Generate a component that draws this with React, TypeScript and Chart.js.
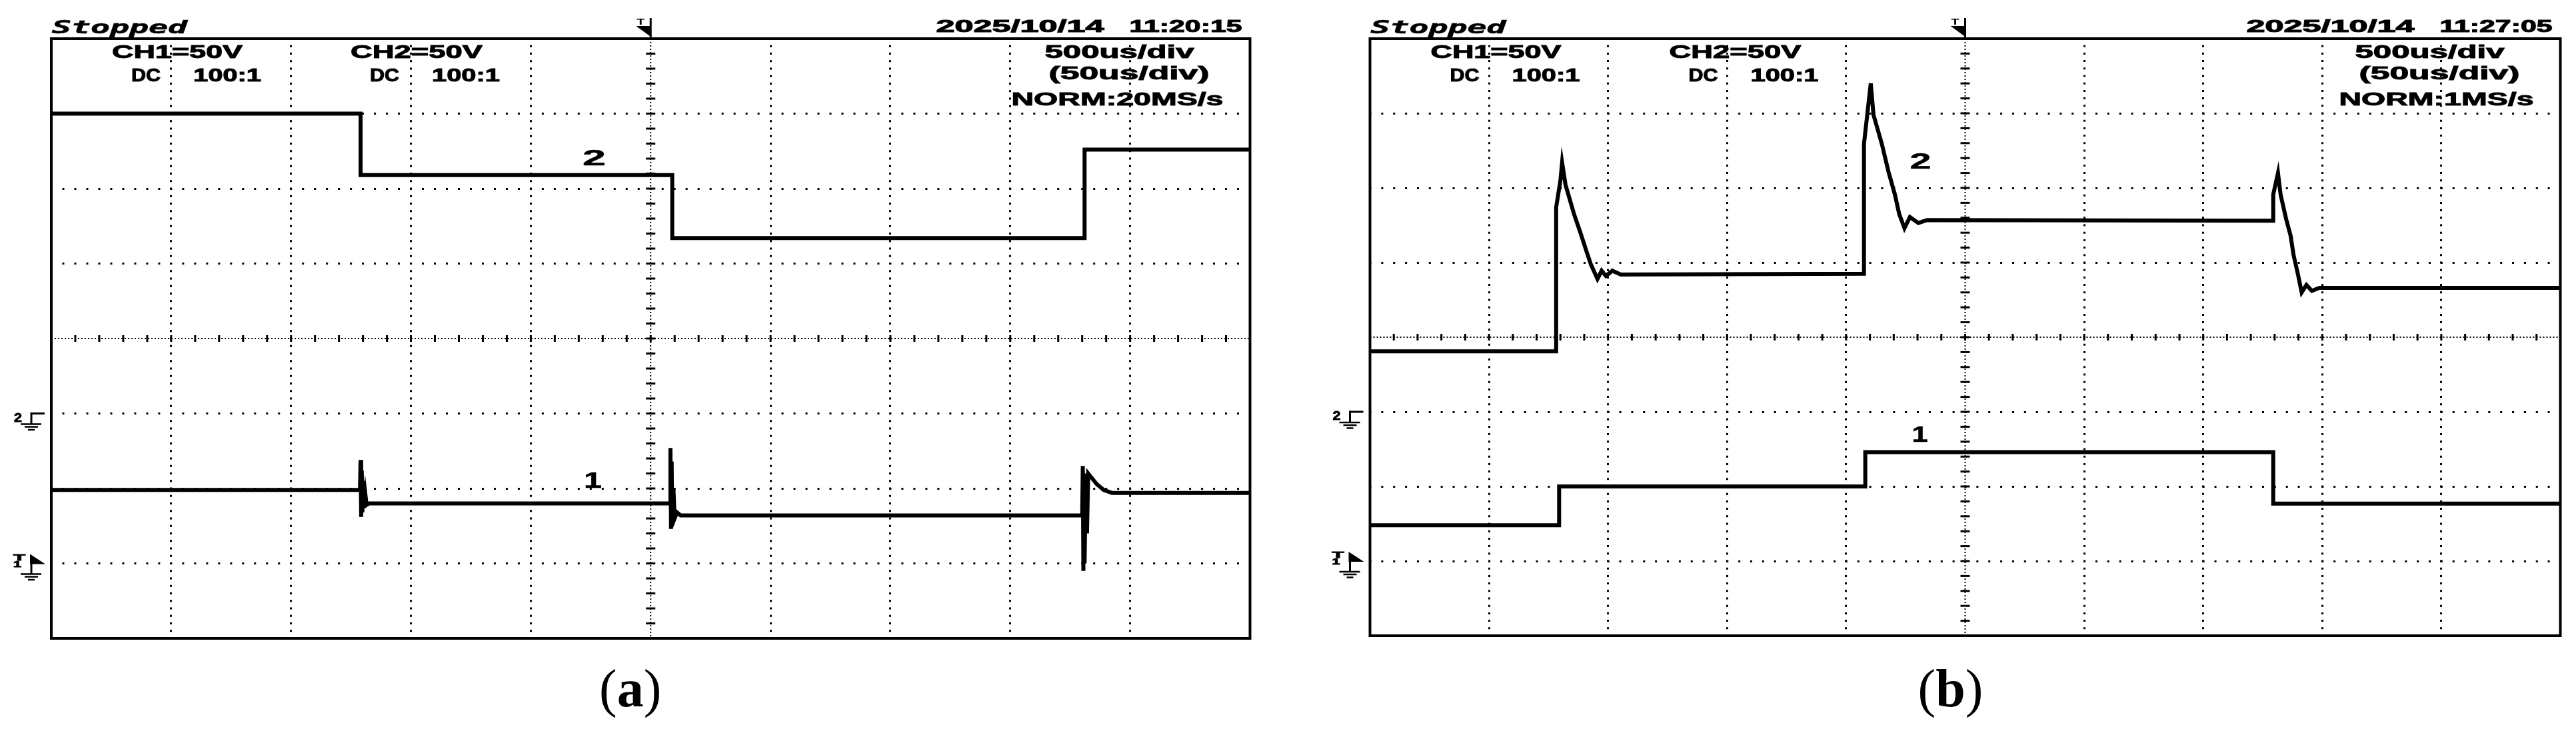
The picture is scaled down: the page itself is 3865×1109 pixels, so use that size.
import React, { useEffect, useRef } from "react";
import { Chart, registerables } from "chart.js";

Chart.register(...registerables);

// ---------------- scope settings ----------------
const MS_PER_DIV = 0.5; // 500us/div
const VOLTS_PER_DIV = 50; // CH1=50V, CH2=50V
const X_DIVS = 10;
const Y_DIVS = 8;
const CH1_GROUND_DIV = -3;
const CH2_GROUND_DIV = -1;

// ---------------- panel (a) data : time [ms], voltage [V] ----------------
const A_CH1_T = [0, 1.2875, 1.29, 1.2925, 1.295, 1.2975, 1.3, 1.305, 1.31, 1.315, 1.325, 2.58, 2.5825, 2.585, 2.5875, 2.59, 2.595, 2.6, 2.61, 2.625, 4.3, 4.3025, 4.305, 4.3075, 4.31, 4.315, 4.32, 4.325, 4.34, 4.36, 4.39, 4.425, 5.0];
const A_CH1_V = [49, 49, 69, 31, 62, 34, 55, 37, 46, 39, 40, 40, 77, 23, 68, 27, 50, 30, 34, 32, 32, 65, -5, 60, 0, 58, 20, 60, 57, 53, 49, 47, 47];
const A_CH2_T = [0, 1.29, 1.29, 2.59, 2.59, 4.31, 4.31, 5.0];
const A_CH2_V = [200, 200, 159, 159, 117, 117, 176, 176];

// ---------------- panel (b) data : time [ms], voltage [V] ----------------
const B_CH1_T = [0, 0.7945, 0.7945, 2.0805, 2.0805, 3.794, 3.794, 5.0];
const B_CH1_V = [24, 24, 50, 50, 73, 73, 38.5, 38.5];
const B_CH2_T = [0, 0.782, 0.782, 0.8, 0.807, 0.8215, 0.857, 0.884, 0.9105, 0.9285, 0.9555, 0.973, 0.991, 1.018, 1.0535, 2.075, 2.075, 2.1035, 2.115, 2.15, 2.1785, 2.205, 2.223, 2.245, 2.268, 2.3035, 2.34, 3.794, 3.794, 3.814, 3.825, 3.8485, 3.867, 3.8795, 3.898, 3.9135, 3.9335, 3.9565, 3.9875, 5.0];
const B_CH2_V = [40.5, 40.5, 137, 155, 167, 152, 132.5, 120, 107, 98.5, 89, 94.5, 91, 94.5, 92, 92.5, 179.5, 220, 199, 179.5, 160.5, 145.5, 132.5, 123, 130.5, 126.5, 128.5, 128, 145.5, 160, 145.5, 129, 118, 105, 92, 80, 85, 81, 83, 83];

// ---------------- screen texts ----------------
const STATUS_TEXT = "Stopped";
const CH1_TEXT = "CH1=50V";
const CH2_TEXT = "CH2=50V";
const COUPLING_TEXT = "DC";
const PROBE_TEXT = "100:1";
const TIMEBASE_TEXT = "500us/div";
const ZOOM_TEXT = "(50us/div)";
const A_DATE = "2025/10/14";
const A_CLOCK = "11:20:15";
const A_RATE = "NORM:20MS/s";
const B_DATE = "2025/10/14";
const B_CLOCK = "11:27:05";
const B_RATE = "NORM:1MS/s";

type Pt = { x: number; y: number };
const toXY = (t: number[], v: number[]): Pt[] => t.map((x, i) => ({ x, y: v[i] }));

interface Panel {
  ch1T: number[]; ch1V: number[]; ch2T: number[]; ch2V: number[];
  date: string; clock: string; rate: string; rateW: number; tag: string;
  canvasW: number;
  pad: { left: number; right: number; top: number; bottom: number };
  lab2: { dx: number; y: number; w: number };
  lab1: { dx: number; y: number; w: number };
}

const CANVAS_H = 1109;

const PANEL_A: Panel = {
  ch1T: A_CH1_T, ch1V: A_CH1_V, ch2T: A_CH2_T, ch2V: A_CH2_V,
  date: A_DATE, clock: A_CLOCK, rate: A_RATE, rateW: 318, tag: "a",
  canvasW: 1932,
  pad: { left: 77, right: 1932 - 1875.5, top: 58, bottom: CANVAS_H - 958 },
  lab2: { dx: 797, y: 248, w: 35 },
  lab1: { dx: 799, y: 732, w: 27 },
};

const PANEL_B: Panel = {
  ch1T: B_CH1_T, ch1V: B_CH1_V, ch2T: B_CH2_T, ch2V: B_CH2_V,
  date: B_DATE, clock: B_CLOCK, rate: B_RATE, rateW: 292, tag: "b",
  canvasW: 1933,
  pad: { left: 123.5, right: 1933 - 1909.5, top: 58, bottom: CANVAS_H - 954 },
  lab2: { dx: 810, y: 253, w: 32 },
  lab1: { dx: 813, y: 663, w: 24 },
};

const SANS = '"Liberation Sans", Arial, sans-serif';
const HEAD_FONT = `bold 28px ${SANS}`;
const DATE_FONT = `bold 25px ${SANS}`;
const STATUS_FONT = 'italic bold 27px "DejaVu Sans Mono", monospace';
const TRACE_FONT = `bold 34px ${SANS}`;
const SERIF = '"Liberation Serif", "Times New Roman", serif';

function drawFit(ctx: CanvasRenderingContext2D, text: string, x: number, y: number, w: number, font: string, stroke = 1) {
  ctx.save();
  ctx.font = font;
  ctx.textAlign = "left";
  ctx.textBaseline = "alphabetic";
  const m = ctx.measureText(text).width || 1;
  ctx.translate(x, y);
  ctx.scale(w / m, 1);
  ctx.fillText(text, 0, 0);
  if (stroke > 0) {
    ctx.lineWidth = stroke;
    ctx.lineJoin = "miter";
    ctx.strokeText(text, 0, 0);
  }
  ctx.restore();
}

function line(ctx: CanvasRenderingContext2D, x1: number, y1: number, x2: number, y2: number) {
  ctx.beginPath();
  ctx.moveTo(x1, y1);
  ctx.lineTo(x2, y2);
  ctx.stroke();
}

function makePlugin(p: Panel) {
  return {
    id: "scopeDecor",
    beforeDatasetsDraw(chart: any) {
      const ctx: CanvasRenderingContext2D = chart.ctx;
      const { left, right, top, bottom } = chart.chartArea;
      const xs = chart.scales.x;
      const ys = chart.scales.y;
      const cx = xs.getPixelForValue((X_DIVS / 2) * MS_PER_DIV);
      const cy = ys.getPixelForValue((0 - CH1_GROUND_DIV) * VOLTS_PER_DIV);
      ctx.save();
      ctx.strokeStyle = "#000";
      ctx.lineWidth = 2;
      ctx.setLineDash([2, 3]);
      line(ctx, cx, top, cx, bottom);
      line(ctx, left, cy, right, cy);
      ctx.setLineDash([]);
      ctx.lineWidth = 3;
      for (let k = 1; k < X_DIVS * 5; k++) {
        const x = xs.getPixelForValue((k * MS_PER_DIV) / 5);
        line(ctx, x, cy - 5, x, cy + 5);
      }
      for (let k = 1; k < Y_DIVS * 5; k++) {
        const d = -Y_DIVS / 2 + k / 5;
        const y = ys.getPixelForValue((d - CH1_GROUND_DIV) * VOLTS_PER_DIV);
        line(ctx, cx - 7, y, cx + 7, y);
      }
      ctx.restore();
    },
    afterDraw(chart: any) {
      const ctx: CanvasRenderingContext2D = chart.ctx;
      const { left, right, top, bottom } = chart.chartArea;
      const xs = chart.scales.x;
      const ys = chart.scales.y;
      const L = left;
      const R = right;
      ctx.save();
      ctx.fillStyle = "#000";
      ctx.strokeStyle = "#000";
      // frame
      ctx.lineWidth = 4;
      ctx.strokeRect(left, top, right - left, bottom - top);

      // header
      drawFit(ctx, STATUS_TEXT, L + 1, 50, 203, STATUS_FONT, 0.6);
      drawFit(ctx, CH1_TEXT, L + 91, 87, 196, HEAD_FONT);
      drawFit(ctx, COUPLING_TEXT, L + 120, 122, 44, HEAD_FONT);
      drawFit(ctx, PROBE_TEXT, L + 213, 122, 102, HEAD_FONT);
      drawFit(ctx, CH2_TEXT, L + 449, 87, 198, HEAD_FONT);
      drawFit(ctx, COUPLING_TEXT, L + 478, 122, 44, HEAD_FONT);
      drawFit(ctx, PROBE_TEXT, L + 571, 122, 102, HEAD_FONT);
      drawFit(ctx, p.date, R - 471, 48, 252, DATE_FONT);
      drawFit(ctx, p.clock, R - 181, 48, 169, DATE_FONT);
      drawFit(ctx, TIMEBASE_TEXT, R - 308, 87, 224, HEAD_FONT);
      drawFit(ctx, ZOOM_TEXT, R - 302, 119, 241, HEAD_FONT);
      drawFit(ctx, p.rate, R - 40 - p.rateW, 158, p.rateW, HEAD_FONT);

      // trigger position marker (top)
      const cx = xs.getPixelForValue((X_DIVS / 2) * MS_PER_DIV);
      ctx.lineWidth = 3;
      line(ctx, cx, 27, cx, top);
      ctx.beginPath();
      ctx.moveTo(cx - 22, 39);
      ctx.lineTo(cx, 39);
      ctx.lineTo(cx, 55);
      ctx.closePath();
      ctx.fill();
      drawFit(ctx, "T", cx - 21, 37, 12, `bold 13px ${SANS}`, 0);

      // CH2 ground marker
      const yg = ys.getPixelForValue((CH2_GROUND_DIV - CH1_GROUND_DIV) * VOLTS_PER_DIV);
      drawFit(ctx, "2", L - 56, yg + 12, 12, `bold 19px ${SANS}`, 0.8);
      ctx.lineWidth = 3;
      line(ctx, L - 30, yg, L - 10, yg);
      line(ctx, L - 30, yg - 1.5, L - 30, yg + 16);
      ctx.lineWidth = 2.5;
      line(ctx, L - 46, yg + 16, L - 15, yg + 16);
      line(ctx, L - 40, yg + 20, L - 20, yg + 20);
      line(ctx, L - 35, yg + 24.5, L - 25, yg + 24.5);

      // CH1 ground + trigger level marker
      const yt = ys.getPixelForValue(0);
      drawFit(ctx, "T", L - 57, yt - 5, 18, `bold 12px ${SANS}`, 0.8);
      drawFit(ctx, "1", L - 57, yt + 5, 12, `bold 12px ${SANS}`, 0.8);
      ctx.beginPath();
      ctx.moveTo(L - 32, yt - 14);
      ctx.lineTo(L - 32, yt + 1);
      ctx.lineTo(L - 9, yt + 1);
      ctx.closePath();
      ctx.fill();
      ctx.lineWidth = 3;
      line(ctx, L - 30, yt, L - 30, yt + 16);
      ctx.lineWidth = 2.5;
      line(ctx, L - 46, yt + 16, L - 15, yt + 16);
      line(ctx, L - 40, yt + 20, L - 20, yt + 20);
      line(ctx, L - 35, yt + 24.5, L - 25, yt + 24.5);

      // trace labels
      drawFit(ctx, "2", L + p.lab2.dx, p.lab2.y, p.lab2.w, TRACE_FONT, 0.5);
      drawFit(ctx, "1", L + p.lab1.dx, p.lab1.y, p.lab1.w, TRACE_FONT, 0.5);

      // sub-figure tag "(a)" / "(b)"
      let x = L + 822;
      const yb = 1060;
      ctx.textAlign = "left";
      ctx.textBaseline = "alphabetic";
      ctx.font = `80px ${SERIF}`;
      ctx.fillText("(", x, yb);
      x += ctx.measureText("(").width;
      ctx.font = `bold 80px ${SERIF}`;
      ctx.fillText(p.tag, x, yb);
      x += ctx.measureText(p.tag).width;
      ctx.font = `80px ${SERIF}`;
      ctx.fillText(")", x, yb);
      ctx.restore();
    },
  };
}

function makeChart(canvas: HTMLCanvasElement, p: Panel) {
  const areaW = p.canvasW - p.pad.left - p.pad.right;
  const areaH = CANVAS_H - p.pad.top - p.pad.bottom;
  const dotX = areaW / X_DIVS / 10; // spacing of dots on horizontal grid lines
  const dotY = areaH / Y_DIVS / 10; // spacing of dots on vertical grid lines
  const xCenter = (X_DIVS / 2) * MS_PER_DIV;
  const yCenter = -CH1_GROUND_DIV * VOLTS_PER_DIV;
  const xMax = X_DIVS * MS_PER_DIV;
  const yMin = (-Y_DIVS / 2 - CH1_GROUND_DIV) * VOLTS_PER_DIV;
  const yMax = (Y_DIVS / 2 - CH1_GROUND_DIV) * VOLTS_PER_DIV;
  const y2Min = (-Y_DIVS / 2 - CH2_GROUND_DIV) * VOLTS_PER_DIV;
  const y2Max = (Y_DIVS / 2 - CH2_GROUND_DIV) * VOLTS_PER_DIV;
  const near = (a: number, b: number) => Math.abs(a - b) < 1e-6;

  const trace = {
    borderColor: "#000",
    backgroundColor: "#000",
    borderWidth: 6,
    pointRadius: 0,
    tension: 0,
    fill: false,
    borderJoinStyle: "miter" as const,
    borderCapStyle: "butt" as const,
  };

  return new Chart(canvas, {
    type: "line",
    data: {
      datasets: [
        { label: "CH1", data: toXY(p.ch1T, p.ch1V), yAxisID: "y", ...trace },
        { label: "CH2", data: toXY(p.ch2T, p.ch2V), yAxisID: "y2", ...trace },
      ],
    },
    options: {
      animation: false,
      responsive: false,
      maintainAspectRatio: false,
      devicePixelRatio: 1,
      events: [],
      layout: { padding: p.pad },
      plugins: { legend: { display: false }, tooltip: { enabled: false }, title: { display: false } },
      scales: {
        x: {
          type: "linear",
          min: 0,
          max: xMax,
          ticks: { display: false, stepSize: MS_PER_DIV },
          grid: {
            drawTicks: false,
            lineWidth: 3,
            color: (c: any) => {
              const v = c.tick ? c.tick.value : -1;
              return near(v, 0) || near(v, xMax) || near(v, xCenter) ? "rgba(0,0,0,0)" : "#000";
            },
          },
          border: { display: false, dash: [3, dotY - 3], dashOffset: 1.5 },
        },
        y: {
          type: "linear",
          min: yMin,
          max: yMax,
          ticks: { display: false, stepSize: VOLTS_PER_DIV },
          grid: {
            drawTicks: false,
            lineWidth: 3,
            color: (c: any) => {
              const v = c.tick ? c.tick.value : -1;
              return near(v, yMin) || near(v, yMax) || near(v, yCenter) ? "rgba(0,0,0,0)" : "#000";
            },
          },
          border: { display: false, dash: [3, dotX - 3], dashOffset: 1.5 },
        },
        y2: { type: "linear", display: false, min: y2Min, max: y2Max },
      },
    } as any,
    plugins: [makePlugin(p)],
  });
}

export default function App() {
  const refA = useRef<HTMLCanvasElement>(null);
  const refB = useRef<HTMLCanvasElement>(null);
  useEffect(() => {
    const charts: Chart[] = [];
    if (refA.current) charts.push(makeChart(refA.current, PANEL_A));
    if (refB.current) charts.push(makeChart(refB.current, PANEL_B));
    return () => charts.forEach((c) => c.destroy());
  }, []);
  return (
    <div style={{ position: "absolute", left: 0, top: 0, width: 3865, height: CANVAS_H, background: "#fff", overflow: "hidden" }}>
      <canvas ref={refA} width={PANEL_A.canvasW} height={CANVAS_H} style={{ position: "absolute", left: 0, top: 0 }} />
      <canvas ref={refB} width={PANEL_B.canvasW} height={CANVAS_H} style={{ position: "absolute", left: PANEL_A.canvasW, top: 0 }} />
    </div>
  );
}
